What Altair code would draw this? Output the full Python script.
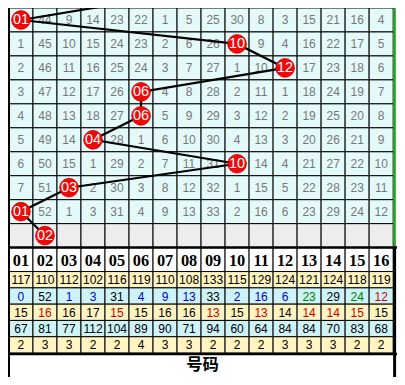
import altair as alt
import pandas as pd

# ---------------- data ----------------
HEADERS = ["01", "02", "03", "04", "05", "06", "07", "08",
           "09", "10", "11", "12", "13", "14", "15", "16"]

# omission values in the upper grid (None = drawn ball)
TOP_MISS = [
    [None, 44, 9, 14, 23, 22, 1, 5, 25, 30, 8, 3, 15, 21, 16, 4],
    [1, 45, 10, 15, 24, 23, 2, 6, 26, None, 9, 4, 16, 22, 17, 5],
    [2, 46, 11, 16, 25, 24, 3, 7, 27, 1, 10, None, 17, 23, 18, 6],
    [3, 47, 12, 17, 26, None, 4, 8, 28, 2, 11, 1, 18, 24, 19, 7],
    [4, 48, 13, 18, 27, None, 5, 9, 29, 3, 12, 2, 19, 25, 20, 8],
    [5, 49, 14, None, 28, 1, 6, 10, 30, 4, 13, 3, 20, 26, 21, 9],
    [6, 50, 15, 1, 29, 2, 7, 11, 31, None, 14, 4, 21, 27, 22, 10],
    [7, 51, None, 2, 30, 3, 8, 12, 32, 1, 15, 5, 22, 28, 23, 11],
    [None, 52, 1, 3, 31, 4, 9, 13, 33, 2, 16, 6, 23, 29, 24, 12],
]
# column index of the drawn ball on each row (last row = gray prediction row)
BALL_COLS = [0, 9, 11, 5, 5, 3, 9, 2, 0, 1]
PREV_BALL_COL = 6  # ball of the row above the visible grid

STAT_ROWS = [
    [117, 110, 112, 102, 116, 119, 110, 108, 133, 115, 129, 124, 121, 124, 118, 119],
    [0, 52, 1, 3, 31, 4, 9, 13, 33, 2, 16, 6, 23, 29, 24, 12],
    [15, 16, 16, 17, 15, 15, 16, 16, 13, 15, 13, 14, 14, 14, 15, 15],
    [67, 81, 77, 112, 104, 89, 90, 71, 94, 60, 64, 84, 84, 70, 83, 68],
    [2, 3, 3, 2, 2, 4, 3, 3, 2, 2, 2, 3, 3, 3, 2, 2],
]
K, B, G, R = "#000000", "#0000CC", "#008000", "#CC0000"
STAT_COLORS = [
    [K] * 16,
    [B, K, B, B, K, B, B, B, K, B, B, B, G, K, G, R],
    [K, R, K, K, R, K, K, K, R, K, R, K, R, R, R, K],
    [K] * 16,
    [K] * 16,
]
FOOTER = "号码"

# ---------------- layout (reference pixel units) ----------------
COL_W, X0 = 25, 1
ROW_H, N_TOP = 25, 10
HEAD_Y0, HEAD_H = 250, 25
STAT_Y0, STAT_H = 275, 17
FOOT_Y0, FOOT_Y1 = 360, 385
W_REF, H_REF = 405, 385
PW, PH = 389, 369
S = PW / W_REF

TOP_BG, GRAY_BG = "#E4FAFA", "#EDEDED"
STAT_BG = ["#FFF4C2", "#CDF3F8", "#FFF4C2", "#CDF3F8", "#FFF4C2"]

xs = alt.Scale(domain=[0, W_REF], nice=False, zero=False)
ys = alt.Scale(domain=[0, H_REF], nice=False, zero=False, reverse=True)


def X(f="x"):
    return alt.X(f + ":Q", scale=xs, axis=None)


def Y(f="y"):
    return alt.Y(f + ":Q", scale=ys, axis=None)


# cells
cells = []
for r in range(N_TOP):
    for c in range(16):
        cells.append(dict(x=X0 + COL_W * c, x2=X0 + COL_W * (c + 1),
                          y=ROW_H * r, y2=ROW_H * (r + 1),
                          fill=GRAY_BG if r == N_TOP - 1 else TOP_BG))
for c in range(16):
    cells.append(dict(x=X0 + COL_W * c, x2=X0 + COL_W * (c + 1),
                      y=HEAD_Y0, y2=HEAD_Y0 + HEAD_H, fill="#FFFFFF"))
for k in range(len(STAT_ROWS)):
    for c in range(16):
        cells.append(dict(x=X0 + COL_W * c, x2=X0 + COL_W * (c + 1),
                          y=STAT_Y0 + STAT_H * k, y2=STAT_Y0 + STAT_H * (k + 1),
                          fill=STAT_BG[k]))
cells_df = pd.DataFrame(cells)

rects = alt.Chart(cells_df).mark_rect(stroke="#000000", strokeWidth=1).encode(
    x=X(), x2="x2", y=Y(), y2="y2", fill=alt.Fill("fill:N", scale=None))

# grid numbers
top_txt = []
for r, row in enumerate(TOP_MISS):
    for c, v in enumerate(row):
        if v is not None:
            top_txt.append(dict(x=X0 + COL_W * (c + 0.5), y=ROW_H * (r + 0.5), t=str(v)))
top_text = alt.Chart(pd.DataFrame(top_txt)).mark_text(
    font="Liberation Sans", fontSize=12.5 * S, color="#777777", baseline="middle"
).encode(x=X(), y=Y(), text="t:N")

# ball line
line_pts = [dict(x=X0 + COL_W * (PREV_BALL_COL + 0.5), y=-ROW_H * 0.5, o=-1)]
for r, c in enumerate(BALL_COLS):
    line_pts.append(dict(x=X0 + COL_W * (c + 0.5), y=ROW_H * (r + 0.5), o=r))
line_df = pd.DataFrame(line_pts)
line = alt.Chart(line_df).mark_line(color="#000000", strokeWidth=2.2, clip=True).encode(
    x=X(), y=Y(), order="o:Q")

balls_df = pd.DataFrame([dict(x=X0 + COL_W * (c + 0.5), y=ROW_H * (r + 0.5),
                              t=HEADERS[c]) for r, c in enumerate(BALL_COLS)])
balls = alt.Chart(balls_df).mark_circle(
    size=(22 * S) ** 2 * 0.785, color="#EE0A0A", opacity=1,
    stroke="#D00000", strokeWidth=0.8
).encode(x=X(), y=Y())
ball_text = alt.Chart(balls_df).mark_text(
    font="Liberation Sans", fontSize=15 * S, color="#FFFFFF", baseline="middle"
).encode(x=X(), y=Y(), text="t:N")

# header
head_df = pd.DataFrame([dict(x=X0 + COL_W * (c + 0.5), y=HEAD_Y0 + HEAD_H / 2, t=h)
                        for c, h in enumerate(HEADERS)])
head_text = alt.Chart(head_df).mark_text(
    font="Liberation Serif", fontWeight="bold", fontSize=17 * S, color="#000000",
    baseline="middle", dy=1
).encode(x=X(), y=Y(), text="t:N")

# stats
st = []
for k, row in enumerate(STAT_ROWS):
    for c, v in enumerate(row):
        st.append(dict(x=X0 + COL_W * (c + 0.5), y=STAT_Y0 + STAT_H * (k + 0.5),
                       t=str(v), col=STAT_COLORS[k][c]))
stat_text = alt.Chart(pd.DataFrame(st)).mark_text(
    font="Liberation Sans", fontSize=12.5 * S, baseline="middle", dy=0.5
).encode(x=X(), y=Y(), text="t:N", color=alt.Color("col:N", scale=None))

# footer
foot_df = pd.DataFrame([dict(x=W_REF / 2, y=(FOOT_Y0 + FOOT_Y1) / 2, t=FOOTER)])
foot_text = alt.Chart(foot_df).mark_text(
    font="Noto Sans CJK SC", fontWeight="bold", fontSize=17 * S, color="#000000",
    baseline="middle"
).encode(x=X(), y=Y(), text="t:N")

# thick borders
borders_df = pd.DataFrame([
    dict(x=0.8, x2=0.8, y=0, y2=H_REF, w=2.5, c="#000000"),
    dict(x=402.5, x2=402.5, y=0, y2=HEAD_Y0, w=2.5, c="#22AA22"),
    dict(x=402.5, x2=402.5, y=HEAD_Y0, y2=H_REF, w=3, c="#000000"),
    dict(x=0, x2=W_REF, y=HEAD_Y0, y2=HEAD_Y0, w=2.5, c="#000000"),
    dict(x=0, x2=W_REF, y=FOOT_Y0 + 1, y2=FOOT_Y0 + 1, w=2.5, c="#000000"),
])
borders = alt.Chart(borders_df).mark_rule().encode(
    x=X(), x2="x2", y=Y(), y2="y2",
    color=alt.Color("c:N", scale=None),
    strokeWidth=alt.StrokeWidth("w:Q", scale=None))

chart = alt.layer(
    rects, top_text, line, balls, ball_text, head_text, stat_text, foot_text, borders
).properties(
    width=PW, height=PH, padding=0, background="#FFFFFF",
    autosize=alt.AutoSizeParams(type="none")
).configure_view(stroke=None)

chart.save("out.html", embed_options={"renderer": "svg", "actions": False})
